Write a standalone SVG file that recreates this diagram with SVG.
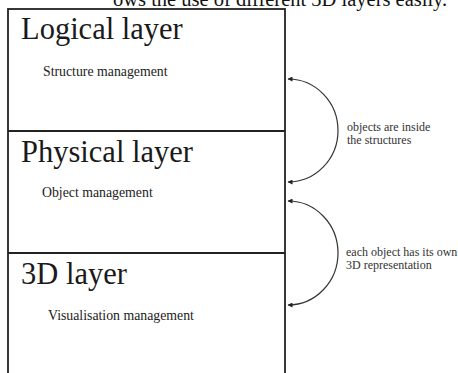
<svg xmlns="http://www.w3.org/2000/svg" width="458" height="373" viewBox="0 0 458 373">
  <style>
    .frame { fill: none; stroke: #222; stroke-width: 1.8; }
    .title { font-family: "Liberation Serif", "Times New Roman", serif; font-size: 30.5px; fill: #1a1a1a; }
    .sub { font-family: "Liberation Serif", "Times New Roman", serif; font-size: 13.8px; fill: #222; }
    .note { font-family: "Liberation Serif", "Times New Roman", serif; font-size: 12px; fill: #333; }
    .cap { font-family: "Liberation Serif", "Times New Roman", serif; font-size: 20.5px; fill: #111; }
    .arc { fill: none; stroke: #333; stroke-width: 1.2; marker-end: url(#head); marker-start: url(#headStart); }
  </style>
  <defs>
    <marker id="head" viewBox="0 0 10 10" refX="9" refY="5" markerWidth="7" markerHeight="5" orient="auto" markerUnits="userSpaceOnUse">
      <path d="M0,0 L10,5 L0,10 z" fill="#222"/>
    </marker>
    <marker id="headStart" viewBox="0 0 10 10" refX="1" refY="5" markerWidth="7" markerHeight="5" orient="auto" markerUnits="userSpaceOnUse">
      <path d="M10,0 L0,5 L10,10 z" fill="#222"/>
    </marker>
  </defs>
  <rect width="458" height="373" fill="#fff"/>

  <!-- caption line running above the figure -->
  <text class="cap" x="113" y="6">ows the use of different 3D layers easily.</text>

  <!-- outer frame of the layer stack -->
  <rect class="frame" x="8" y="9" width="277" height="380"/>

  <g id="logical-layer">
    <text class="title" x="21" y="39">Logical layer</text>
    <text class="sub" x="43" y="76">Structure management</text>
  </g>

  <g id="physical-layer">
    <line class="frame" x1="8" y1="131" x2="285" y2="131"/>
    <text class="title" x="21" y="162">Physical layer</text>
    <text class="sub" x="42" y="197">Object management</text>
  </g>

  <g id="threed-layer">
    <line class="frame" x1="8" y1="253" x2="285" y2="253"/>
    <text class="title" x="21" y="284">3D layer</text>
    <text class="sub" x="48" y="320">Visualisation management</text>
  </g>

  <g id="connectors">
    <path class="arc" d="M288,79 A50,51.5 0 0 1 288,182"/>
    <path class="arc" d="M288,201 A50,52 0 0 1 288,305"/>
    <text class="note" x="347" y="131">objects are inside</text>
    <text class="note" x="347" y="144">the structures</text>
    <text class="note" x="346" y="256">each object has its own</text>
    <text class="note" x="346" y="269">3D representation</text>
  </g>
</svg>
